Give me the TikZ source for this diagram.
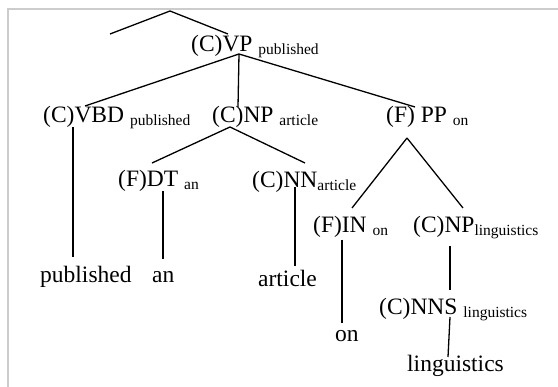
\documentclass[tikz,border=0pt]{standalone}
\usepackage{fontspec}
\setmainfont{Liberation Serif}
\newcommand{\sub}[1]{\raisebox{-3pt}{\fontsize{15.5}{18}\selectfont #1}}
\tikzset{
	lbl/.style={anchor=base west, inner sep=0pt, font=\fontsize{23.5}{28}\selectfont},
	branch/.style={line width=1.3pt, color=black},
}

\begin{document}
\begin{tikzpicture}[x=1pt, y=-1pt]
		%%%%% START %%%%%
		\useasboundingbox (0, 0) rectangle (558, 387);
		\draw[line width=1.5pt, color=black!20] (558, 9) -- (8, 9) -- (8, 387);
		
		% labels
		\node[lbl] (vp) at (191, 52) {(C)VP \sub{published}};
		\node[lbl] (vbd) at (43, 123) {(C)VBD \sub{published}};
		\node[lbl] (np) at (212, 123) {(C)NP \sub{article}};
		\node[lbl] (pp) at (386, 123) {(F) PP \sub{on}};
		\node[lbl] (dt) at (118, 187) {(F)DT \sub{an}};
		\node[lbl] (nn) at (252, 188) {(C)NN\sub{article}};
		\node[lbl] (in) at (313, 233) {(F)IN \sub{on}};
		\node[lbl] (nplg) at (413, 233) {(C)NP\sub{linguistics}};
		\node[lbl] (nns) at (379, 315) {(C)NNS \sub{linguistics}};
		
		\node[lbl] (wpub) at (40, 283) {published};
		\node[lbl] (wan) at (152, 283) {an};
		\node[lbl] (wart) at (258, 287) {article};
		\node[lbl] (won) at (335, 342) {on};
		\node[lbl] (wling) at (407, 372) {linguistics};
		
		% branch ends
		\coordinate (top) at (170, 11);
		\coordinate (topl) at (110, 34);
		\coordinate (topr) at (228, 34);
		\coordinate (vpfoot) at (239, 54);
		\coordinate (vbdhead) at (85, 106);
		\coordinate (nphead) at (238, 107);
		\coordinate (pphead) at (415, 107);
		\coordinate (vbdfoot) at (73, 127);
		\coordinate (pubhead) at (73, 257);
		\coordinate (npfoot) at (230, 127);
		\coordinate (dthead) at (152, 163);
		\coordinate (nnhead) at (305, 163);
		\coordinate (dtfoot) at (163, 191);
		\coordinate (anhead) at (163, 259);
		\coordinate (nnfoot) at (295, 187);
		\coordinate (arthead) at (295, 266);
		\coordinate (ppfoot) at (407, 138);
		\coordinate (inhead) at (352, 208);
		\coordinate (nplghead) at (463, 208);
		\coordinate (infoot) at (342, 240);
		\coordinate (onhead) at (342, 323);
		\coordinate (nplgfoot) at (450, 246);
		\coordinate (nnshead) at (450, 290);
		\coordinate (nnsfoot) at (450, 317);
		\coordinate (linghead) at (448, 357);
		
		% branches
		\draw[branch] (topl) -- (top) -- (topr);
		\draw[branch] (vpfoot) -- (vbdhead);
		\draw[branch] (vpfoot) -- (nphead);
		\draw[branch] (vpfoot) -- (pphead);
		\draw[branch] (vbdfoot) -- (pubhead);
		\draw[branch] (npfoot) -- (dthead);
		\draw[branch] (npfoot) -- (nnhead);
		\draw[branch] (dtfoot) -- (anhead);
		\draw[branch] (nnfoot) -- (arthead);
		\draw[branch] (ppfoot) -- (inhead);
		\draw[branch] (ppfoot) -- (nplghead);
		\draw[branch] (infoot) -- (onhead);
		\draw[branch] (nplgfoot) -- (nnshead);
		\draw[branch] (nnsfoot) -- (linghead);
		%%%%% END %%%%%
\end{tikzpicture}
\end{document}
